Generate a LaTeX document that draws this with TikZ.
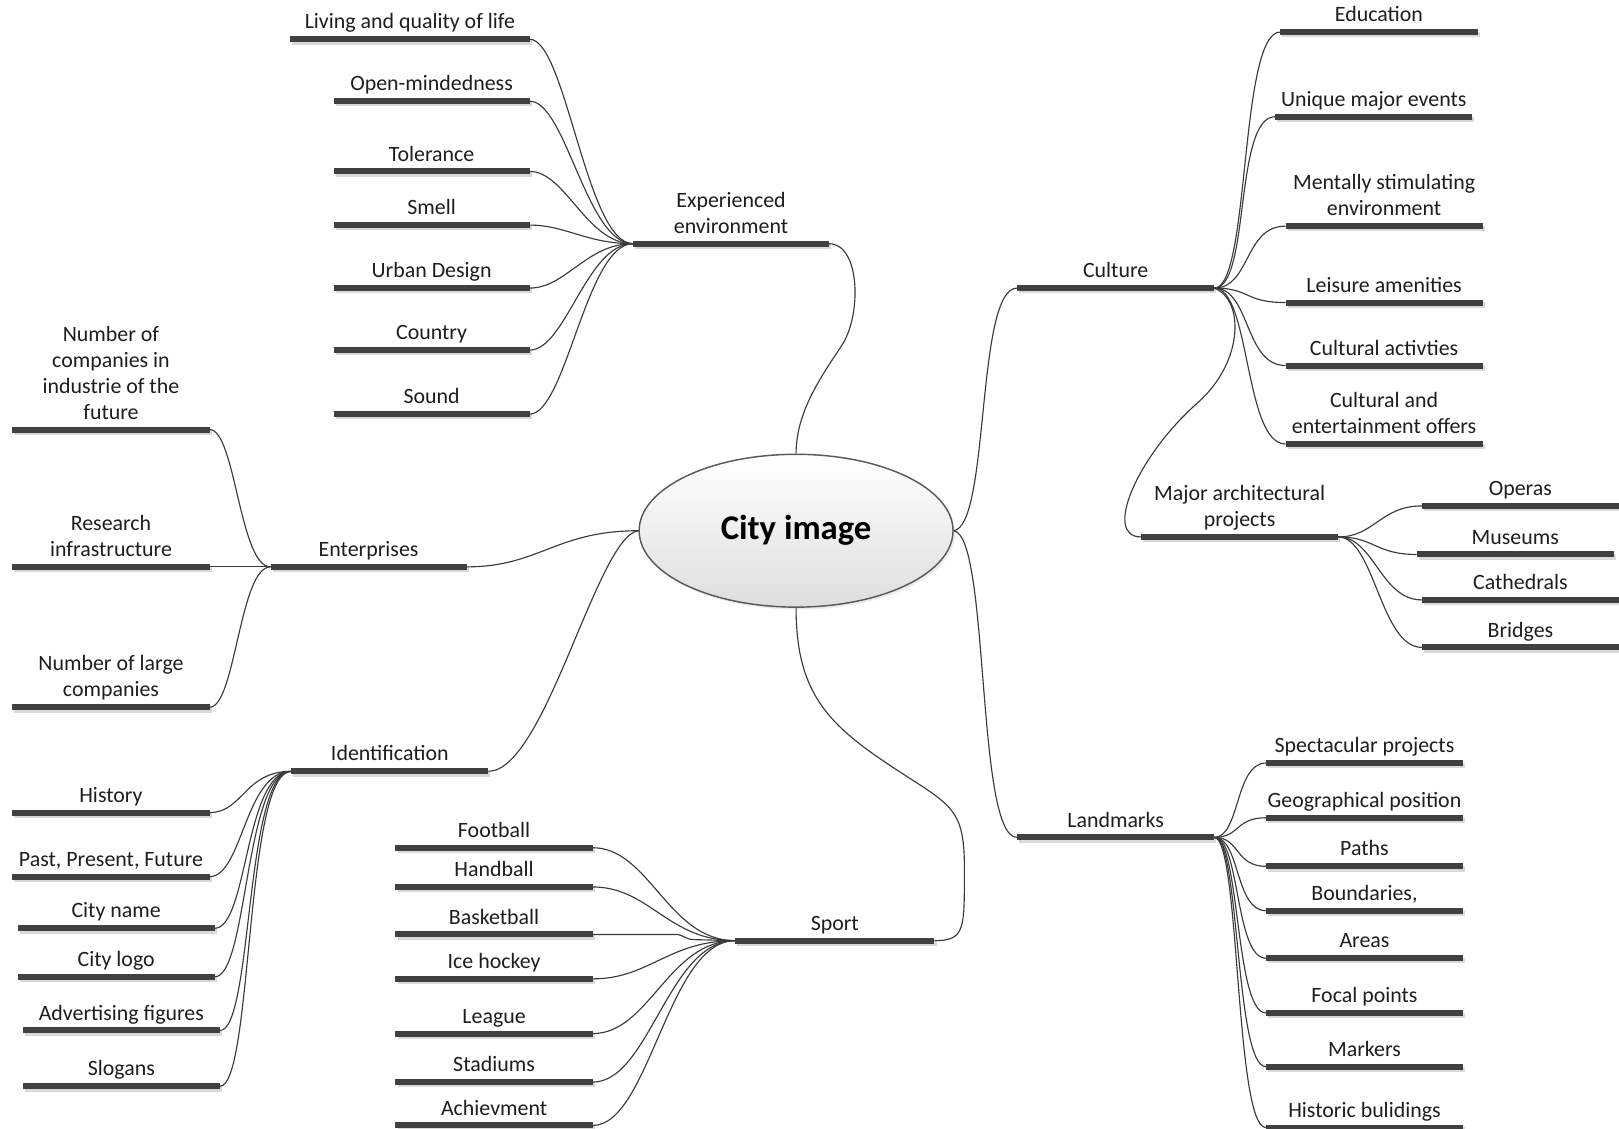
\documentclass[tikz,border=0pt]{standalone}
\usepackage{fontspec}
\setmainfont{Carlito}
\usetikzlibrary{shapes.geometric,shadows}
\definecolor{barc}{HTML}{404040}
\definecolor{txtc}{HTML}{1E1E1E}
\definecolor{linec}{HTML}{3A3A3A}
\tikzset{
  bar/.style={draw=barc, line width=2.9pt, line cap=butt},
  barshadow/.style={draw=black!15, line width=2.6pt, line cap=butt},
  lbl/.style={anchor=base, inner sep=0pt, text=txtc, font=\fontsize{10.6}{12.6}\selectfont},
  conn/.style={draw=linec, line width=0.55pt},
}
\newcommand\mmleaf[5]{%
  \coordinate (#1-l) at (#2,#4);
  \coordinate (#1-r) at (#3,#4);
  \draw[barshadow] ([shift={(2,2.5)}]#1-l) -- ([shift={(2,2.5)}]#1-r);
  \draw[bar] (#1-l) -- (#1-r);
  \node[lbl] (#1) at ({(#2+#3)/2},{#4-10}) {\begin{tabular}[b]{@{}c@{}}#5\end{tabular}};
}
\begin{document}
\begin{tikzpicture}[x=0.5pt,y=-0.5pt]
\useasboundingbox (0,0) rectangle (1568,1093);
\fill[white] (0,0) rectangle (1568,1093);

% central node
\node[ellipse, minimum width=152pt, minimum height=74pt, draw=black!65, line width=0.7pt,
      top color=white, bottom color=black!13, text=black,
      drop shadow={opacity=0.15, shadow xshift=1pt, shadow yshift=-1.2pt},
      font=\bfseries\fontsize{16.8}{19}\selectfont] (city) at (771,514) {City image};

% Experienced environment
\mmleaf{exp}{613}{803}{236}{Experienced\\environment}
\mmleaf{liv}{281}{513}{38}{Living and quality of life}
\mmleaf{open}{323}{513}{98}{Open-mindedness}
\mmleaf{tol}{323}{513}{166}{Tolerance}
\mmleaf{smell}{323}{513}{218}{Smell}
\mmleaf{urban}{323}{513}{279}{Urban Design}
\mmleaf{country}{323}{513}{339}{Country}
\mmleaf{sound}{323}{513}{401}{Sound}
\foreach \c in {liv,open,tol,smell,urban,country,sound}
  \draw[conn] (\c-r) .. controls +(35,0) and +(-45,0) .. (exp-l);
\draw[conn] (city.north) .. controls +(0,-40) and +(-20,30) .. (815,335)
  .. controls +(20,-30) and +(30,0) .. (exp-r);

% Enterprises
\mmleaf{ent}{262}{452}{549}{Enterprises}
\mmleaf{ncf}{12}{203}{416}{Number of\\companies in\\industrie of the\\future}
\mmleaf{res}{12}{203}{549}{Research\\infrastructure}
\mmleaf{nlc}{12}{203}{685}{Number of large\\companies}
\foreach \c in {ncf,res,nlc}
  \draw[conn] (\c-r) .. controls +(25,0) and +(-30,0) .. (ent-l);
\draw[conn] (ent-r) .. controls +(70,0) and +(-80,0) .. (city.west);

% Identification
\mmleaf{ident}{282}{473}{747}{Identification}
\mmleaf{hist}{12}{203}{787}{History}
\mmleaf{ppf}{12}{203}{849}{Past, Present, Future}
\mmleaf{cname}{17}{208}{899}{City name}
\mmleaf{clogo}{17}{208}{946}{City logo}
\mmleaf{adv}{22}{213}{998}{Advertising figures}
\mmleaf{slog}{22}{213}{1052}{Slogans}
\foreach \c in {hist,ppf,cname,clogo,adv,slog}
  \draw[conn] (\c-r) .. controls +(32,0) and +(-45,0) .. (ident-l);
\draw[conn] (city.west) .. controls +(-40,5) and +(55,0) .. (ident-r);

% Sport
\mmleaf{sport}{712}{905}{911}{Sport}
\mmleaf{foot}{383}{574}{821}{Football}
\mmleaf{hand}{383}{574}{859}{Handball}
\mmleaf{bask}{383}{574}{905}{Basketball}
\mmleaf{ice}{383}{574}{948}{Ice hockey}
\mmleaf{league}{383}{574}{1001}{League}
\mmleaf{stad}{383}{574}{1048}{Stadiums}
\mmleaf{ach}{383}{574}{1090}{Achievment}
\foreach \c in {foot,hand,ice,league,stad,ach}
  \draw[conn] (\c-r) .. controls +(55,0) and +(-65,0) .. (sport-l);
\draw[conn] (bask-r) -- ++(80,0) .. controls +(8,0) and +(-8,0) .. ++(18,5) -- (sport-l);
\draw[conn] (city.south) .. controls +(0,80) and +(-60,-40) .. (860,740)
  .. controls +(60,40) and +(0,-60) .. (934,840)
  .. controls +(0,60) and +(30,0) .. (sport-r);

% Culture
\mmleaf{cult}{985}{1176}{279}{Culture}
\mmleaf{edu}{1240}{1431}{31}{Education}
\mmleaf{ume}{1235}{1426}{113}{Unique major events}
\mmleaf{mse}{1245}{1436}{219}{Mentally stimulating\\environment}
\mmleaf{leis}{1245}{1436}{293}{Leisure amenities}
\mmleaf{cact}{1245}{1436}{354}{Cultural activties}
\mmleaf{ceo}{1245}{1436}{430}{Cultural and\\entertainment offers}
\foreach \c in {edu,ume,mse,leis,cact,ceo}
  \draw[conn] (cult-r) .. controls +(35,0) and +(-40,0) .. (\c-l);
\draw[conn] (city.east) .. controls +(35,-5) and +(-40,0) .. (cult-l);

% Major architectural projects
\mmleaf{map}{1105}{1296}{520}{Major architectural\\projects}
\mmleaf{opera}{1377}{1568}{490}{Operas}
\mmleaf{mus}{1372}{1563}{537}{Museums}
\mmleaf{cath}{1377}{1568}{581}{Cathedrals}
\mmleaf{bridge}{1377}{1568}{627}{Bridges}
\foreach \c in {opera,mus,cath,bridge}
  \draw[conn] (map-r) .. controls +(35,0) and +(-40,0) .. (\c-l);
\draw[conn] (cult-r) .. controls (1205,290) and (1205,350) .. (1160,390)
  .. controls (1101,442) and (1068,520) .. (map-l);

% Landmarks
\mmleaf{land}{985}{1176}{811}{Landmarks}
\mmleaf{spec}{1226}{1417}{739}{Spectacular projects}
\mmleaf{geo}{1226}{1417}{792}{Geographical position}
\mmleaf{paths}{1226}{1417}{839}{Paths}
\mmleaf{bound}{1226}{1417}{882}{Boundaries,}
\mmleaf{areas}{1226}{1417}{928}{Areas}
\mmleaf{focal}{1226}{1417}{981}{Focal points}
\mmleaf{markers}{1226}{1417}{1033}{Markers}
\mmleaf{histb}{1226}{1417}{1092}{Historic bulidings}
\foreach \c in {spec,geo,paths,bound,areas,focal,markers,histb}
  \draw[conn] (land-r) .. controls +(25,0) and +(-30,0) .. (\c-l);
\draw[conn] (city.east) .. controls +(35,5) and +(-40,0) .. (land-l);
\end{tikzpicture}
\end{document}
